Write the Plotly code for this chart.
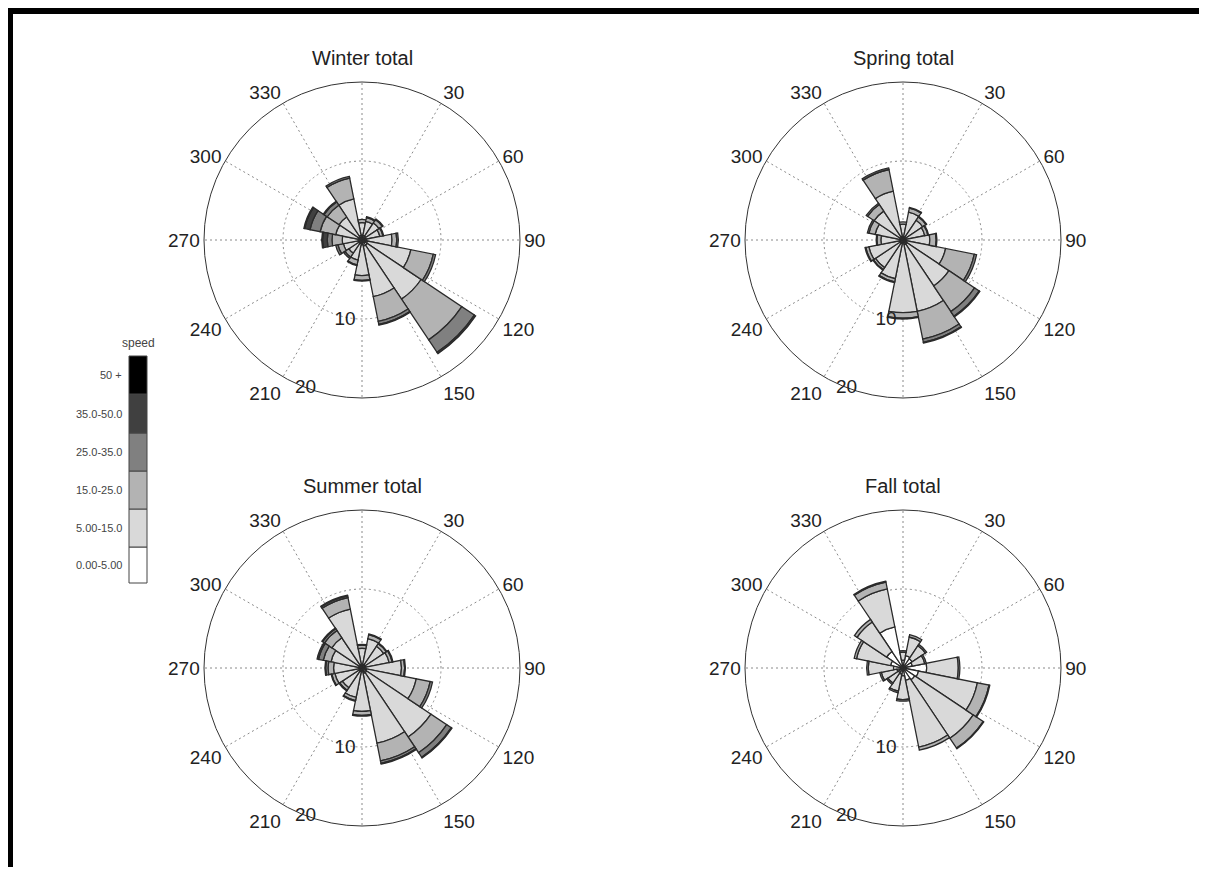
import plotly.graph_objects as go

# page pixels: the figure div starts at (8, 8) because of the default body margin
OFF = 8
W, H = 1207 - OFF, 875 - 2 * OFF

directions = [i * 22.5 for i in range(16)]
speed_bins = ["0.00-5.00", "5.00-15.0", "15.0-25.0", "25.0-35.0", "35.0-50.0", "50 +"]
bin_colors = ["#ffffff", "#d9d9d9", "#b3b3b3", "#808080", "#404040", "#000000"]
season_titles = ["Winter total", "Spring total", "Summer total", "Fall total"]
angle_ticks = [0, 30, 60, 90, 120, 150, 180, 210, 240, 270, 300, 330]
angle_labels = ["", "30", "60", "90", "120", "150", "", "210", "240", "270", "300", "330"]
radial_ticks = [10, 20]

# frequency (%) per direction for each speed bin
winter_0_5 = [0.6, 0.6, 0.6, 0.5, 0.6, 0.7, 0.8, 0.8, 0.6, 0.5, 0.5, 0.5, 0.5, 0.5, 0.5, 0.6]
winter_5_15 = [1.6, 1.8, 2.0, 1.8, 3.2, 5.6, 8.2, 6.5, 3.9, 2.1, 1.5, 1.9, 2.0, 2.9, 3.0, 4.7]
winter_15_25 = [0.4, 0.5, 0.5, 0.4, 0.6, 2.9, 6.2, 3.2, 0.6, 0.6, 0.6, 0.7, 1.3, 2.0, 1.8, 2.7]
winter_25_35 = [0, 0.1, 0.1, 0.1, 0.2, 0.3, 1.9, 0.4, 0.1, 0.1, 0.2, 0.3, 0.6, 1.3, 0.5, 0.2]
winter_35_50 = [0, 0, 0, 0, 0, 0, 0.2, 0.1, 0, 0, 0, 0, 0.6, 0.7, 0.1, 0]
winter_50 = [0, 0, 0, 0, 0, 0, 0, 0, 0, 0, 0, 0, 0.1, 0.1, 0, 0]

spring_0_5 = [0.4, 0.4, 0.4, 0.4, 0.4, 0.5, 0.6, 0.6, 0.5, 0.5, 0.5, 0.5, 0.4, 0.4, 0.4, 0.5]
spring_5_15 = [1.6, 3.2, 2.6, 2.4, 3.0, 5.0, 6.4, 8.6, 8.7, 4.5, 3.7, 3.9, 2.4, 3.2, 4.0, 5.8]
spring_15_25 = [0.3, 0.5, 0.5, 0.4, 0.8, 3.7, 3.9, 3.6, 0.7, 0.4, 0.3, 0.4, 0.5, 0.8, 1.0, 2.8]
spring_25_35 = [0, 0.1, 0.1, 0.1, 0.1, 0.3, 0.7, 0.4, 0.1, 0.1, 0.1, 0.1, 0.1, 0.2, 0.2, 0.2]
spring_35_50 = [0, 0, 0, 0, 0, 0, 0.1, 0.1, 0, 0, 0, 0, 0, 0, 0, 0]
spring_50 = [0] * 16

summer_0_5 = [0.5, 0.5, 0.5, 0.5, 0.5, 0.6, 0.7, 0.7, 0.5, 0.5, 0.4, 0.4, 0.4, 0.4, 0.4, 0.5]
summer_5_15 = [2.0, 3.3, 2.8, 3.0, 4.5, 6.4, 9.8, 9.0, 5.0, 3.3, 2.6, 3.1, 3.2, 3.6, 4.2, 7.1]
summer_15_25 = [0.4, 0.5, 0.4, 0.4, 0.4, 1.8, 2.4, 2.3, 0.5, 0.4, 0.4, 0.4, 0.7, 1.0, 1.1, 1.5]
summer_25_35 = [0.1, 0.1, 0.1, 0.1, 0.1, 0.3, 0.7, 0.3, 0.1, 0.1, 0.1, 0.1, 0.3, 0.6, 0.3, 0.2]
summer_35_50 = [0, 0, 0, 0, 0, 0, 0.1, 0.1, 0, 0, 0, 0, 0.1, 0.2, 0.1, 0.1]
summer_50 = [0] * 16

fall_0_5 = [1.0, 1.6, 1.4, 1.2, 3.0, 2.0, 1.8, 1.6, 1.0, 0.8, 0.7, 0.8, 1.2, 1.6, 2.5, 5.3]
fall_5_15 = [1.0, 2.4, 2.0, 1.6, 4.0, 7.6, 8.9, 8.6, 3.0, 2.2, 1.6, 2.0, 3.2, 4.4, 4.5, 4.9]
fall_15_25 = [0.2, 0.3, 0.2, 0.2, 0.2, 1.5, 1.5, 0.4, 0.2, 0.2, 0.2, 0.2, 0.2, 0.3, 0.4, 0.9]
fall_25_35 = [0, 0, 0, 0, 0, 0.1, 0.1, 0, 0, 0, 0, 0, 0, 0, 0, 0.1]
fall_35_50 = [0] * 16
fall_50 = [0] * 16

seasons = [
    [winter_0_5, winter_5_15, winter_15_25, winter_25_35, winter_35_50, winter_50],
    [spring_0_5, spring_5_15, spring_15_25, spring_25_35, spring_35_50, spring_50],
    [summer_0_5, summer_5_15, summer_15_25, summer_25_35, summer_35_50, summer_50],
    [fall_0_5, fall_5_15, fall_15_25, fall_25_35, fall_35_50, fall_50],
]

# layout geometry (page pixels)
centers = [(362, 240), (903, 240), (362, 668), (903, 668)]
R = 158
FONT = "Liberation Sans, Arial, sans-serif"
RADIAL_ANGLE = -120


def px(x):
    return (x - OFF) / W


def py(y):
    return 1 - (y - OFF) / H


grid_style = dict(showgrid=True, gridcolor="#8a8a8a", griddash="2px,3px", gridwidth=1)
tick_font = dict(family=FONT, size=19, color="#222")

fig = go.Figure()
layout = {}
annotations = []
for k, (season, (cx, cy), title) in enumerate(zip(seasons, centers, season_titles)):
    name = "polar" if k == 0 else f"polar{k + 1}"
    for b, vals in enumerate(season):
        fig.add_trace(go.Barpolar(
            r=vals, theta=directions, width=[22.5] * 16,
            marker=dict(color=bin_colors[b], line=dict(color="#2a2a2a", width=1.3)),
            name=speed_bins[b], subplot=name, showlegend=False,
        ))
    layout[name] = dict(
        domain=dict(x=[px(cx - R), px(cx + R)], y=[py(cy + R), py(cy - R)]),
        bgcolor="white",
        barmode="stack",
        angularaxis=dict(
            rotation=90, direction="clockwise",
            tickmode="array", tickvals=angle_ticks, ticktext=angle_labels,
            showline=True, linecolor="#333", linewidth=1,
            ticks="", tickfont=tick_font, **grid_style,
        ),
        radialaxis=dict(
            range=[0, 20], tickmode="array", tickvals=radial_ticks,
            showline=False, ticks="", side="counterclockwise",
            angle=RADIAL_ANGLE, tickangle=RADIAL_ANGLE,
            tickfont=tick_font, **grid_style,
        ),
    )
    annotations.append(dict(
        x=px(cx), y=py(cy - 182), xref="paper", yref="paper", text=title,
        showarrow=False, font=dict(family=FONT, size=20, color="#222"),
        xanchor="center", yanchor="middle",
    ))

# speed legend
box_edges = [583, 547, 509, 471, 433, 394, 356]
shapes = []
for b in range(6):
    y0, y1 = box_edges[b], box_edges[b + 1]
    shapes.append(dict(type="rect", xref="paper", yref="paper",
                       x0=px(129), x1=px(147), y0=py(y0), y1=py(y1),
                       fillcolor=bin_colors[b], line=dict(color="#444", width=1)))
    annotations.append(dict(
        x=px(124), y=py((y0 + y1) / 2), xref="paper", yref="paper",
        text=speed_bins[b], showarrow=False, xanchor="right", yanchor="middle",
        font=dict(family=FONT, size=11, color="#444"),
    ))
annotations.append(dict(
    x=px(138), y=py(343), xref="paper", yref="paper", text="speed",
    showarrow=False, xanchor="center", yanchor="middle",
    font=dict(family=FONT, size=12, color="#444"),
))

# frame lines
shapes.append(dict(type="rect", xref="paper", yref="paper", x0=0.0, x1=1.0,
                   y0=py(14), y1=1.0, fillcolor="black", line=dict(width=0)))
shapes.append(dict(type="rect", xref="paper", yref="paper", x0=0.0, x1=px(13),
                   y0=0.0, y1=1.0, fillcolor="black", line=dict(width=0)))

fig.update_layout(
    width=W, height=H, margin=dict(l=0, r=0, t=0, b=0),
    paper_bgcolor="white", plot_bgcolor="white",
    annotations=annotations, shapes=shapes, **layout,
)

fig.write_html("out.html")
